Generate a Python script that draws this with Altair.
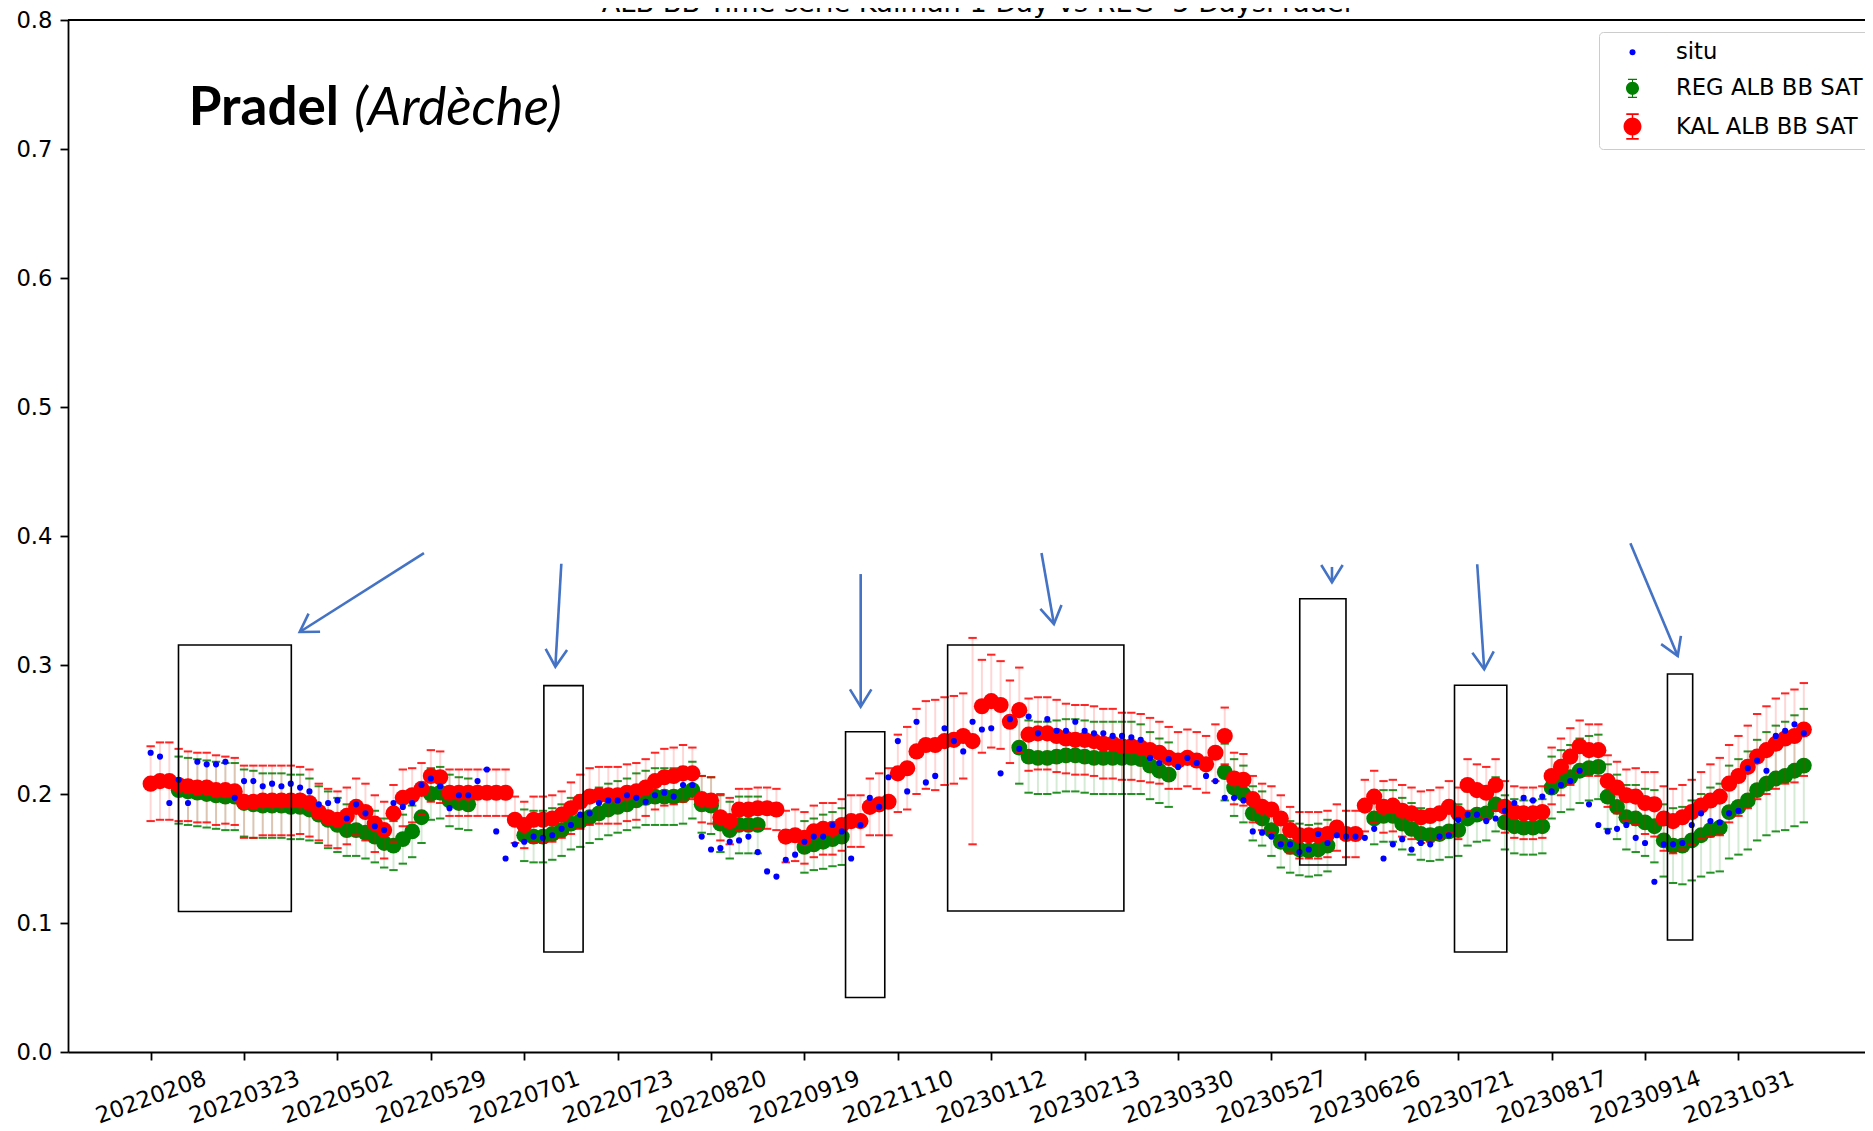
import math
import altair as alt
import pandas as pd

# ---------------- data ----------------
tick_dates = ["20220208", "20220323", "20220502", "20220529", "20220701", "20220723",
              "20220820", "20220919", "20221110", "20230112", "20230213", "20230330",
              "20230527", "20230626", "20230721", "20230817", "20230914", "20231031"]

situ = [0.232, 0.229, 0.193, 0.211, 0.193, 0.225, 0.223, 0.223, 0.225, 0.197,
        0.210, 0.210, 0.206, 0.208, 0.206, 0.208, 0.205, 0.202, 0.192, 0.193,
        0.195, 0.181, 0.192, 0.185, 0.175, 0.172, 0.193, 0.190, 0.193, 0.207,
        0.212, 0.206, 0.189, 0.199, 0.199, 0.210, 0.219, 0.171, 0.150, 0.161,
        0.163, 0.167, 0.166, 0.168, 0.173, 0.176, 0.184, 0.185, 0.193, 0.195,
        0.195, 0.199, 0.197, 0.194, 0.199, 0.201, 0.198, 0.207, 0.207, 0.167,
        0.157, 0.158, 0.163, 0.164, 0.167, 0.155, 0.140, 0.136, 0.149, 0.153,
        0.163, 0.167, 0.167, 0.176, 0.171, 0.150, 0.176, 0.197, 0.190, 0.213,
        0.241, 0.202, 0.256, 0.209, 0.214, 0.251, 0.241, 0.233, 0.256, 0.250,
        0.251, 0.216, 0.258, 0.235, 0.260, 0.247, 0.258, 0.249, 0.249, 0.256,
        0.249, 0.247, 0.247, 0.245, 0.245, 0.244, 0.242, 0.228, 0.224, 0.227,
        0.221, 0.228, 0.224, 0.214, 0.210, 0.197, 0.197, 0.195, 0.171, 0.170,
        0.167, 0.161, 0.161, 0.155, 0.157, 0.169, 0.162, 0.168, 0.167, 0.167,
        0.166, 0.173, 0.150, 0.161, 0.165, 0.157, 0.162, 0.161, 0.167, 0.168,
        0.180, 0.184, 0.184, 0.179, 0.181, 0.187, 0.193, 0.197, 0.195, 0.198,
        0.202, 0.207, 0.210, 0.218, 0.192, 0.176, 0.171, 0.173, 0.176, 0.166,
        0.162, 0.132, 0.161, 0.161, 0.162, 0.176, 0.185, 0.179, 0.178, 0.185,
        0.187, 0.220, 0.226, 0.218, 0.245, 0.249, 0.254, 0.247]

kal = [0.208, 0.210, 0.210, 0.207, 0.206, 0.205, 0.205, 0.203, 0.203, 0.202,
       0.194, 0.194, 0.195, 0.195, 0.195, 0.195, 0.195, 0.193, 0.186, 0.182,
       0.180, 0.183, 0.190, 0.186, 0.177, 0.172, 0.185, 0.197, 0.199, 0.204,
       0.214, 0.213, 0.201, 0.201, 0.201, 0.201, 0.201, 0.201, 0.201, 0.180,
       0.176, 0.180, 0.180, 0.181, 0.184, 0.189, 0.194, 0.198, 0.199, 0.199,
       0.199, 0.201, 0.202, 0.205, 0.210, 0.213, 0.214, 0.216, 0.216, 0.196,
       0.195, 0.182, 0.179, 0.188, 0.188, 0.189, 0.189, 0.188, 0.167, 0.168,
       0.166, 0.171, 0.173, 0.173, 0.176, 0.179, 0.179, 0.190, 0.192, 0.194,
       0.216, 0.220, 0.233, 0.238, 0.238, 0.241, 0.242, 0.245, 0.241, 0.268,
       0.272, 0.269, 0.256, 0.265, 0.246, 0.247, 0.247, 0.245, 0.243, 0.242,
       0.242, 0.241, 0.239, 0.239, 0.237, 0.237, 0.236, 0.234, 0.232, 0.228,
       0.226, 0.228, 0.226, 0.223, 0.232, 0.245, 0.212, 0.211, 0.196, 0.190,
       0.188, 0.181, 0.172, 0.168, 0.168, 0.168, 0.169, 0.174, 0.169, 0.169,
       0.191, 0.198, 0.190, 0.191, 0.187, 0.185, 0.182, 0.183, 0.185, 0.190,
       0.185, 0.207, 0.203, 0.201, 0.207, 0.190, 0.186, 0.185, 0.185, 0.186,
       0.214, 0.221, 0.229, 0.237, 0.234, 0.234, 0.210, 0.205, 0.199, 0.198,
       0.193, 0.192, 0.181, 0.179, 0.182, 0.186, 0.191, 0.195, 0.198, 0.208,
       0.214, 0.221, 0.229, 0.234, 0.239, 0.243, 0.245, 0.250]

kal_err = [0.029, 0.030, 0.030, 0.028, 0.027, 0.027, 0.027, 0.027, 0.026, 0.026,
           0.028, 0.028, 0.027, 0.027, 0.027, 0.027, 0.026, 0.026, 0.022, 0.022,
           0.022, 0.022, 0.022, 0.022, 0.022, 0.022, 0.022, 0.022, 0.021, 0.020,
           0.020, 0.020, 0.018, 0.018, 0.018, 0.018, 0.018, 0.018, 0.018, 0.018,
           0.018, 0.018, 0.018, 0.018, 0.018, 0.020, 0.021, 0.022, 0.022, 0.022,
           0.022, 0.022, 0.022, 0.022, 0.022, 0.022, 0.022, 0.022, 0.020, 0.018,
           0.018, 0.018, 0.018, 0.016, 0.016, 0.016, 0.016, 0.016, 0.020, 0.020,
           0.020, 0.020, 0.020, 0.020, 0.020, 0.020, 0.020, 0.022, 0.024, 0.026,
           0.030, 0.032, 0.033, 0.034, 0.035, 0.034, 0.034, 0.033, 0.080, 0.036,
           0.036, 0.034, 0.032, 0.033, 0.028, 0.028, 0.028, 0.028, 0.027, 0.027,
           0.027, 0.027, 0.027, 0.027, 0.026, 0.026, 0.026, 0.025, 0.024, 0.024,
           0.022, 0.022, 0.022, 0.022, 0.022, 0.022, 0.020, 0.020, 0.018, 0.018,
           0.018, 0.018, 0.018, 0.018, 0.018, 0.018, 0.018, 0.018, 0.018, 0.018,
           0.020, 0.020, 0.020, 0.020, 0.020, 0.020, 0.020, 0.020, 0.020, 0.020,
           0.020, 0.020, 0.020, 0.020, 0.020, 0.020, 0.020, 0.020, 0.020, 0.020,
           0.022, 0.022, 0.022, 0.020, 0.020, 0.020, 0.020, 0.020, 0.020, 0.022,
           0.024, 0.025, 0.025, 0.025, 0.025, 0.025, 0.026, 0.028, 0.030, 0.030,
           0.031, 0.032, 0.033, 0.034, 0.035, 0.035, 0.036, 0.036]

N_ = None
reg = [N_, N_, N_, 0.203, 0.202, 0.201, 0.200, 0.199, 0.198, 0.198,
       0.193, 0.192, 0.191, 0.191, 0.191, 0.190, 0.190, 0.188, 0.184, 0.180,
       0.176, 0.172, 0.172, 0.170, 0.167, 0.162, 0.160, 0.165, 0.171, 0.182,
       0.200, 0.201, 0.195, 0.193, 0.192, N_, N_, N_, N_, N_,
       0.168, 0.167, 0.167, 0.169, 0.172, 0.177, 0.179, 0.182, 0.185, 0.188,
       0.190, 0.192, 0.195, 0.197, 0.198, 0.198, 0.198, 0.199, 0.203, 0.192,
       0.191, 0.177, 0.172, 0.176, 0.176, 0.176, N_, N_, N_, N_,
       0.159, 0.161, 0.163, 0.165, 0.167, N_, N_, N_, N_, N_,
       N_, N_, N_, N_, N_, N_, N_, N_, N_, N_,
       N_, N_, N_, 0.236, 0.229, 0.228, 0.228, 0.229, 0.230, 0.230,
       0.229, 0.228, 0.228, 0.228, 0.228, 0.228, 0.227, 0.222, 0.218, 0.215,
       N_, N_, N_, N_, N_, 0.217, 0.205, 0.200, 0.185, 0.181,
       0.172, 0.163, 0.159, 0.157, 0.156, 0.157, 0.160, N_, N_, N_,
       N_, 0.181, 0.183, 0.183, 0.177, 0.173, 0.169, 0.168, 0.169, 0.171,
       0.172, 0.181, 0.184, 0.185, 0.192, 0.178, 0.175, 0.174, 0.174, 0.175,
       0.205, 0.210, 0.213, 0.218, 0.220, 0.221, 0.198, 0.190, 0.182, 0.181,
       0.178, 0.175, 0.164, 0.160, 0.160, 0.164, 0.168, 0.172, 0.174, 0.186,
       0.190, 0.195, 0.203, 0.208, 0.212, 0.214, 0.218, 0.222]

reg_err = [N_, N_, N_, 0.026, 0.026, 0.026, 0.026, 0.026, 0.026, 0.026,
           0.026, 0.026, 0.025, 0.025, 0.025, 0.025, 0.025, 0.024, 0.022, 0.022,
           0.021, 0.020, 0.020, 0.020, 0.020, 0.019, 0.019, 0.019, 0.020, 0.020,
           0.020, 0.020, 0.020, 0.020, 0.020, N_, N_, N_, N_, N_,
           0.020, 0.020, 0.020, 0.020, 0.020, 0.020, 0.020, 0.020, 0.020, 0.020,
           0.020, 0.020, 0.021, 0.021, 0.022, 0.022, 0.022, 0.022, 0.022, 0.022,
           0.022, 0.022, 0.022, 0.022, 0.022, 0.022, N_, N_, N_, N_,
           0.020, 0.020, 0.021, 0.021, 0.022, N_, N_, N_, N_, N_,
           N_, N_, N_, N_, N_, N_, N_, N_, N_, N_,
           N_, N_, N_, 0.028, 0.028, 0.028, 0.028, 0.028, 0.028, 0.028,
           0.028, 0.028, 0.028, 0.028, 0.028, 0.028, 0.027, 0.026, 0.025, 0.025,
           N_, N_, N_, N_, N_, 0.022, 0.022, 0.022, 0.021, 0.021,
           0.020, 0.020, 0.020, 0.020, 0.020, 0.020, 0.020, N_, N_, N_,
           N_, 0.020, 0.020, 0.020, 0.020, 0.020, 0.020, 0.020, 0.020, 0.020,
           0.020, 0.021, 0.021, 0.021, 0.021, 0.021, 0.021, 0.021, 0.021, 0.021,
           0.024, 0.024, 0.025, 0.025, 0.025, 0.025, 0.025, 0.025, 0.025, 0.026,
           0.026, 0.028, 0.028, 0.029, 0.030, 0.031, 0.032, 0.033, 0.034, 0.036,
           0.037, 0.038, 0.039, 0.040, 0.041, 0.042, 0.043, 0.044]

# annotation boxes (index units, albedo units)
box_i0 = [2.98, 42.1, 74.4, 85.33, 123.03, 139.6, 162.4]
box_i1 = [15.06, 46.3, 78.6, 104.2, 127.98, 145.2, 165.1]
box_v0 = [0.1089, 0.0775, 0.0423, 0.1093, 0.145, 0.0775, 0.0868]
box_v1 = [0.3155, 0.2840, 0.2483, 0.3155, 0.3514, 0.2843, 0.293]

# annotation arrows (start -> tip)
arr_i0 = [29.26, 43.97, 76.02, 95.38, 126.48, 142.03, 158.43]
arr_v0 = [0.3868, 0.3785, 0.3705, 0.3868, 0.376, 0.3781, 0.3943]
arr_i1 = [15.96, 43.33, 76.02, 96.71, 126.48, 142.78, 163.5]
arr_v1 = [0.3256, 0.2987, 0.2677, 0.3318, 0.3641, 0.2967, 0.307]

series_names = ["situ", "REG ALB BB SAT", "KAL ALB BB SAT"]
series_colors = ["#0000ff", "#008000", "#ff0000"]

# ---------------- layout ----------------
W, H = 1797, 1032
XMIN, XMAX = -8.85, 183.55
PX_I = W / (XMAX - XMIN)
PX_V = H / 0.8

n = len(situ)
df = pd.DataFrame({"i": list(range(n)), "situ": situ, "kal": kal, "kal_err": kal_err,
                   "reg": reg, "reg_err": reg_err})
df["kal_lo"] = df["kal"] - df["kal_err"]
df["kal_hi"] = df["kal"] + df["kal_err"]
df["reg_lo"] = df["reg"] - df["reg_err"]
df["reg_hi"] = df["reg"] + df["reg_err"]

boxes = pd.DataFrame({"i0": box_i0, "i1": box_i1, "v0": box_v0, "v1": box_v1})
arrows = pd.DataFrame({"i0": arr_i0, "v0": arr_v0, "i1": arr_i1, "v1": arr_v1})
ang = []
for a, b, c, d in zip(arr_i0, arr_v0, arr_i1, arr_v1):
    dxp = (c - a) * PX_I
    dyp = -(d - b) * PX_V
    ang.append(math.degrees(math.atan2(-dxp, dyp)) % 360)
arrows["angle"] = ang

FONT = "DejaVu Sans"
xs = alt.Scale(domain=[XMIN, XMAX], nice=False, zero=False)
ys = alt.Scale(domain=[0.0, 0.8], nice=False, zero=False)

label_arr = "[" + ",".join("'%s'" % d for d in tick_dates) + "]"
x_axis = alt.Axis(values=list(range(0, 171, 10)), labelExpr=label_arr + "[round(datum.value/10)]",
                  title=None, grid=False, labelAngle=340, labelAlign="center",
                  labelBaseline="middle", labelPadding=37, tickSize=8, tickWidth=1.8,
                  tickColor="black", domainColor="black", domainWidth=1.8,
                  labelFont=FONT, labelFontSize=22.7, labelColor="black",
                  labelFlush=False, labelOverlap=False, labelBound=False)
y_axis = alt.Axis(values=[0.0, 0.1, 0.2, 0.3, 0.4, 0.5, 0.6, 0.7, 0.8], format=".1f",
                  title=None, grid=False, tickSize=8, tickWidth=1.8, tickColor="black",
                  domainColor="black", domainWidth=1.8, labelFont=FONT,
                  labelFontSize=22.7, labelColor="black", labelPadding=8,
                  labelFlush=False, labelOverlap=False)


def X(f="i"):
    return alt.X(f + ":Q", scale=xs, axis=x_axis)


def Y(f):
    return alt.Y(f + ":Q", scale=ys, axis=y_axis)


base = alt.Chart(df)

reg_bar = base.mark_rule(color="#008000", opacity=0.16, strokeWidth=2).encode(
    x=X(), y=Y("reg_lo"), y2="reg_hi:Q")
reg_cap_lo = base.mark_point(shape="stroke", filled=False, color="#008000", opacity=0.85,
                             size=70, strokeWidth=2).encode(x=X(), y=Y("reg_lo"))
reg_cap_hi = base.mark_point(shape="stroke", filled=False, color="#008000", opacity=0.85,
                             size=70, strokeWidth=2).encode(x=X(), y=Y("reg_hi"))
reg_dot = base.mark_point(filled=True, color="#008000", opacity=1, size=250).encode(
    x=X(), y=Y("reg"))

kal_bar = base.mark_rule(color="#ff0000", opacity=0.16, strokeWidth=2).encode(
    x=X(), y=Y("kal_lo"), y2="kal_hi:Q")
kal_cap_lo = base.mark_point(shape="stroke", filled=False, color="#ff0000", opacity=0.85,
                             size=70, strokeWidth=2).encode(x=X(), y=Y("kal_lo"))
kal_cap_hi = base.mark_point(shape="stroke", filled=False, color="#ff0000", opacity=0.85,
                             size=70, strokeWidth=2).encode(x=X(), y=Y("kal_hi"))
kal_dot = base.mark_point(filled=True, color="#ff0000", opacity=1, size=260).encode(
    x=X(), y=Y("kal"))

situ_dot = base.mark_point(filled=True, color="#0000ff", opacity=1, size=38).encode(
    x=X(), y=Y("situ"))

box_layer = alt.Chart(boxes).mark_rect(fillOpacity=0, stroke="black", strokeWidth=1.6).encode(
    x=X("i0"), x2="i1:Q", y=Y("v0"), y2="v1:Q")

arrow_shaft = alt.Chart(arrows).mark_rule(color="#4472C4", strokeWidth=2.6).encode(
    x=X("i0"), y=Y("v0"), x2="i1:Q", y2="v1:Q")
arrow_head = alt.Chart(arrows).mark_point(
    shape="M-0.62,-1L0,0L0.62,-1", filled=False, color="#4472C4", opacity=1,
    strokeWidth=2.6, size=1197).encode(
    x=X("i1"), y=Y("v1"), angle=alt.Angle("angle:Q", scale=None))

frame_top = alt.Chart(pd.DataFrame({"k": [0]})).mark_rule(color="black", strokeWidth=1.8).encode(
    y=alt.datum(0.8, scale=ys), x=alt.value(0), x2=alt.value(W))

# legend symbol: filled dot plus a thin error bar with caps (all filled areas)
legend_shape = ("M-0.06,-1H0.06V1H-0.06Z"
                "M-0.5,-1.07H0.5V-0.93H-0.5Z"
                "M-0.5,0.93H0.5V1.07H-0.5Z"
                "M-0.72,0A0.72,0.72 0 1 1 0.72,0A0.72,0.72 0 1 1 -0.72,0Z")
leg_df = pd.DataFrame({"series": series_names, "lx": [None] * 3, "ly": [None] * 3})
legend_layer = alt.Chart(leg_df).mark_point(filled=True, opacity=1).encode(
    x=X("lx"), y=Y("ly"),
    color=alt.Color("series:N", scale=alt.Scale(domain=series_names, range=series_colors),
                    legend=alt.Legend(title=None, orient="none", legendX=1531, legendY=12,
                                      labelFont=FONT, labelFontSize=22.7, labelColor="black",
                                      labelLimit=600,
                                      padding=9, symbolOffset=11, labelOffset=30,
                                      rowPadding=12, fillColor="white",
                                      strokeColor="#cccccc", cornerRadius=4)),
    size=alt.Size("series:N", scale=alt.Scale(domain=series_names, range=[36, 620, 620])),
    shape=alt.Shape("series:N", scale=alt.Scale(domain=series_names,
                                                range=["circle", legend_shape, legend_shape])),
)

txt = pd.DataFrame({"k": [0]})
title_txt = alt.Chart(txt).mark_text(
    text="ALB BB Time serie Kalman 1 Day vs REG -5 DaysPradel", font=FONT, fontSize=27.2,
    align="center", baseline="alphabetic", color="black").encode(
    x=alt.value(908.5), y=alt.value(-8))
pradel_txt = alt.Chart(txt).mark_text(
    text="Pradel", font="Lato", fontSize=53, fontWeight="bold", align="left",
    baseline="alphabetic", color="black").encode(x=alt.value(120.7), y=alt.value(105))
ardeche_txt = alt.Chart(txt).mark_text(
    text="(Ardèche)", font="Lato", fontSize=53, fontStyle="italic", align="left",
    baseline="alphabetic", color="black").encode(x=alt.value(286), y=alt.value(105))

chart = alt.layer(
    reg_bar, reg_cap_lo, reg_cap_hi, reg_dot,
    kal_bar, kal_cap_lo, kal_cap_hi, kal_dot,
    situ_dot, box_layer, arrow_shaft, arrow_head, frame_top, legend_layer,
    title_txt, pradel_txt, ardeche_txt,
).properties(
    width=W, height=H,
    autosize=alt.AutoSizeParams(type="none"),
    padding={"left": 60, "top": 12, "right": 0, "bottom": 82},
).configure_view(stroke=None).configure(background="white")

chart.save("out.html", embed_options={"renderer": "svg", "actions": False})
